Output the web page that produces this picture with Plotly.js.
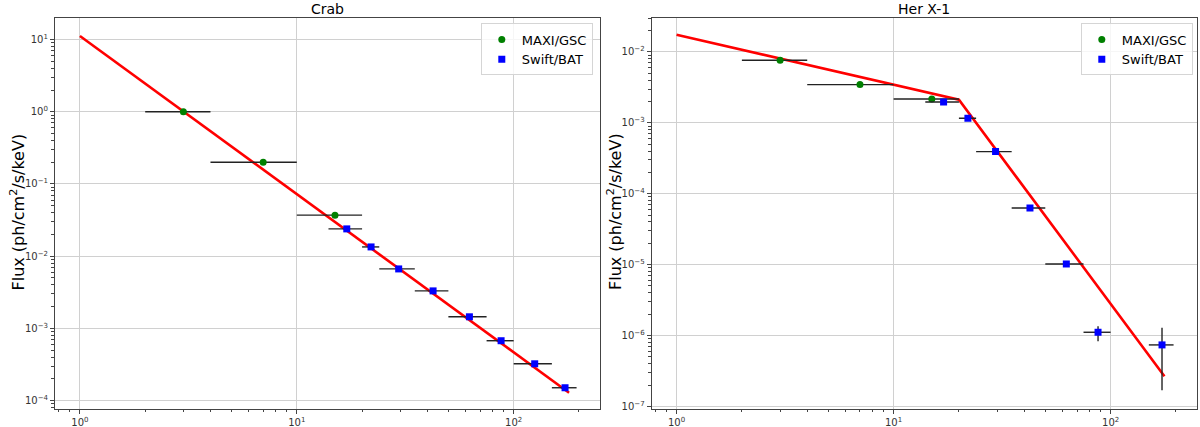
<!DOCTYPE html>
<html>
<head>
<meta charset="utf-8">
<script src="https://cdn.plot.ly/plotly-3.0.1.min.js"></script>
<style>html,body{margin:0;padding:0;background:#fff;}#chart{width:1200px;height:427px;}</style>
</head>
<body>
<div id="chart"></div>
<script>
// ---------- Crab ----------
const crabMaxiE   = [3, 7, 15];
const crabMaxiElo = [2, 4, 10];
const crabMaxiEhi = [4, 10, 20];
const crabMaxiF   = [1.0, 0.2, 0.037];

const crabBatE   = [17, 22, 29.5, 42.5, 62.5, 87.5, 125, 172.5];
const crabBatElo = [14, 20, 24, 35, 50, 75, 100, 150];
const crabBatEhi = [20, 24, 35, 50, 75, 100, 150, 195];
const crabBatF   = [0.0239, 0.01345, 0.00667, 0.00331, 0.00145, 0.000676, 0.000324, 0.000151];

const crabModelE = [1, 180];
const crabModelF = [11.2, 1.29e-4];

// ---------- Her X-1 ----------
const herMaxiE   = [3, 7, 15];
const herMaxiElo = [2, 4, 10];
const herMaxiEhi = [4, 10, 20];
const herMaxiF   = [0.00762, 0.00346, 0.00217];

const herBatE   = [17, 22, 29.5, 42.5, 62.5, 87.5, 172.5];
const herBatElo = [14, 20, 24, 35, 50, 75, 150];
const herBatEhi = [20, 24, 35, 50, 75, 100, 195];
const herBatF   = [0.00197, 0.00116, 3.93e-4, 6.3e-5, 1.02e-5, 1.11e-6, 7.36e-7];
const herBatFlo = [0.00192, 0.00113, 3.85e-4, 6.1e-5, 0.98e-5, 0.83e-6, 1.69e-7];
const herBatFhi = [0.00202, 0.00119, 4.01e-4, 6.5e-5, 1.06e-5, 1.35e-6, 1.28e-6];

const herModelE = [1, 20, 177];
const herModelF = [0.0175, 0.00212, 2.66e-7];

// ---------- text ----------
const panelTitles = ['Crab', 'Her X-1'];
const yTitle = 'Flux (ph/cm<sup>2</sup>/s/keV)';
const xTickExp  = [0, 1, 2];
const crabYExp  = [-4, -3, -2, -1, 0, 1];
const herYExp   = [-7, -6, -5, -4, -3, -2];

const sup = p => '10<sup>' + (p < 0 ? '\u2212' + (-p) : p) + '</sup>';
const plus  = (v, hi) => hi.map((h, i) => h - v[i]);
const minus = (v, lo) => lo.map((l, i) => v[i] - l);

const errStyle = {color: '#222', thickness: 1.4, width: 0};

function xErr(v, lo, hi) {
  return Object.assign({type: 'data', symmetric: false, array: plus(v, hi), arrayminus: minus(v, lo)}, errStyle);
}

const traces = [
  {x: crabModelE, y: crabModelF, mode: 'lines', line: {color: '#ff0000', width: 2.6},
   showlegend: false, xaxis: 'x', yaxis: 'y', hoverinfo: 'skip'},
  {x: crabMaxiE, y: crabMaxiF, mode: 'markers', name: 'MAXI/GSC',
   marker: {color: 'green', size: 7, symbol: 'circle'},
   error_x: xErr(crabMaxiE, crabMaxiElo, crabMaxiEhi), xaxis: 'x', yaxis: 'y', legend: 'legend'},
  {x: crabBatE, y: crabBatF, mode: 'markers', name: 'Swift/BAT',
   marker: {color: 'blue', size: 7, symbol: 'square'},
   error_x: xErr(crabBatE, crabBatElo, crabBatEhi), xaxis: 'x', yaxis: 'y', legend: 'legend'},

  {x: herModelE, y: herModelF, mode: 'lines', line: {color: '#ff0000', width: 2.6},
   showlegend: false, xaxis: 'x2', yaxis: 'y2', hoverinfo: 'skip'},
  {x: herMaxiE, y: herMaxiF, mode: 'markers', name: 'MAXI/GSC',
   marker: {color: 'green', size: 7, symbol: 'circle'},
   error_x: xErr(herMaxiE, herMaxiElo, herMaxiEhi), xaxis: 'x2', yaxis: 'y2', legend: 'legend2'},
  {x: herBatE, y: herBatF, mode: 'markers', name: 'Swift/BAT',
   marker: {color: 'blue', size: 7, symbol: 'square'},
   error_x: xErr(herBatE, herBatElo, herBatEhi),
   error_y: Object.assign({type: 'data', symmetric: false, array: plus(herBatF, herBatFhi), arrayminus: minus(herBatF, herBatFlo)}, errStyle),
   xaxis: 'x2', yaxis: 'y2', legend: 'legend2'}
];

const tickFont = {family: 'DejaVu Sans', size: 10, color: '#333'};
const minorCfg = {ticks: 'outside', ticklen: 2.5, tickcolor: '#444', showgrid: false, dtick: 'D1'};

function xAxis(domain, anchor) {
  return {type: 'log', domain: domain, anchor: anchor, range: [-0.115, 2.398],
    tickmode: 'array', tickvals: xTickExp.map(p => Math.pow(10, p)), ticktext: xTickExp.map(sup),
    ticks: 'outside', ticklen: 4, tickcolor: '#444', tickfont: tickFont,
    showline: true, linecolor: '#444', linewidth: 1, mirror: true,
    showgrid: true, gridcolor: '#d0d0d0', gridwidth: 1, zeroline: false, minor: minorCfg};
}
function yAxis(domain, anchor, range, exps) {
  return {type: 'log', domain: domain, anchor: anchor, range: range,
    tickmode: 'array', tickvals: exps.map(p => Math.pow(10, p)), ticktext: exps.map(sup),
    ticks: 'outside', ticklen: 4, tickcolor: '#444', tickfont: tickFont,
    showline: true, linecolor: '#444', linewidth: 1, mirror: true,
    showgrid: true, gridcolor: '#d0d0d0', gridwidth: 1, zeroline: false, minor: minorCfg};
}

const yDom = [0.0422, 0.958];
const legendCommon = {bgcolor: 'rgba(255,255,255,0.8)', bordercolor: '#d5d5d5', borderwidth: 1,
  font: {family: 'DejaVu Sans', size: 13, color: '#000'}, xanchor: 'right', yanchor: 'top', y: 0.945,
  tracegroupgap: 0, itemwidth: 30};

const titleFont = {family: 'DejaVu Sans', size: 14, color: '#000'};
const yTitleFont = {family: 'DejaVu Sans', size: 16, color: '#000'};

const layout = {
  width: 1200, height: 427,
  margin: {l: 0, r: 0, t: 0, b: 0},
  paper_bgcolor: '#fff', plot_bgcolor: '#fff',
  font: {family: 'DejaVu Sans', color: '#000'},
  xaxis: xAxis([0.0458, 0.5], 'y'),
  yaxis: yAxis(yDom, 'x', [-4.115, 1.299], crabYExp),
  xaxis2: xAxis([0.543, 0.9975], 'y2'),
  yaxis2: yAxis(yDom, 'x2', [-7.037, -1.52], herYExp),
  legend: Object.assign({x: 0.494}, legendCommon),
  legend2: Object.assign({x: 0.994}, legendCommon),
  annotations: [
    {text: panelTitles[0], xref: 'paper', yref: 'paper', x: 0.2729, y: 1 - 9/427, xanchor: 'center', yanchor: 'middle',
     showarrow: false, font: titleFont},
    {text: panelTitles[1], xref: 'paper', yref: 'paper', x: 0.7703, y: 1 - 9/427, xanchor: 'center', yanchor: 'middle',
     showarrow: false, font: titleFont},
    {text: yTitle, xref: 'paper', yref: 'paper', x: 17.5/1200, y: 1 - 212/427, xanchor: 'center', yanchor: 'middle',
     textangle: -90, showarrow: false, font: yTitleFont},
    {text: yTitle, xref: 'paper', yref: 'paper', x: 614/1200, y: 1 - 212/427, xanchor: 'center', yanchor: 'middle',
     textangle: -90, showarrow: false, font: yTitleFont}
  ],
  showlegend: true
};

Plotly.newPlot('chart', traces, layout, {staticPlot: true, displayModeBar: false});
</script>
</body>
</html>
